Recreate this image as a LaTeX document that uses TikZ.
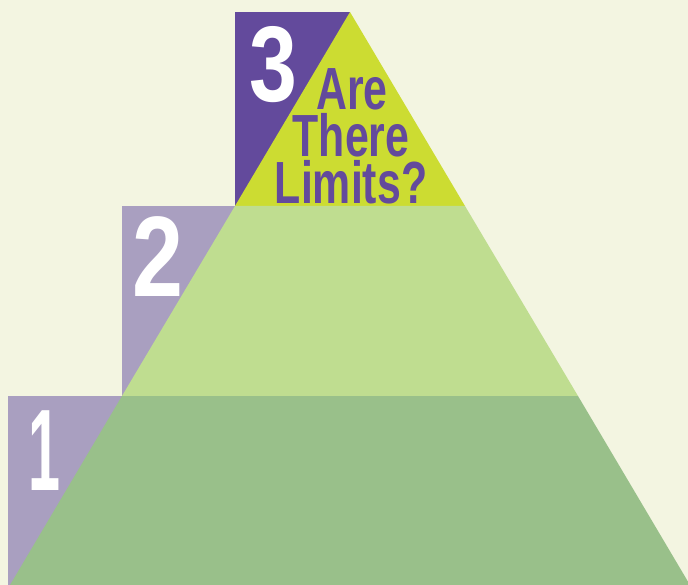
\documentclass[tikz,border=0pt]{standalone}
\usepackage{fontspec}
\setmainfont{Liberation Sans}
\definecolor{paper}{HTML}{F3F5E1}
\definecolor{topgreen}{HTML}{CCDC32}
\definecolor{midgreen}{HTML}{BFDD90}
\definecolor{lowgreen}{HTML}{99C08A}
\definecolor{darkpurple}{HTML}{634A9C}
\definecolor{lightpurple}{HTML}{A99FC0}
\begin{document}
\begin{tikzpicture}[x=1pt,y=-1pt,
  stepnum/.style={text=white,inner sep=0pt,anchor=base,xscale=0.8,
    font=\bfseries\fontsize{112}{112}\selectfont},
  title/.style={text=darkpurple,inner sep=0pt,anchor=base,xscale=0.72,
    text height=43pt,text depth=0pt,
    font=\bfseries\fontsize{59.5}{47}\selectfont}]
  \fill[paper] (0,0) rectangle (688,585);
  \useasboundingbox (0,0) rectangle (688,585);
  % Steps
  \fill[darkpurple] (235,12) rectangle (350,206);
  \fill[lightpurple] (122,206) rectangle (235,396);
  \fill[lightpurple] (8,396) rectangle (122,585);
  % Pyramid
  \fill[topgreen] (350,12) -- (235,206) -- (465,206) -- cycle;
  \fill[midgreen] (235,206) -- (465,206) -- (578,396) -- (122,396) -- cycle;
  \fill[lowgreen] (122,396) -- (578,396) -- (690,585) -- (10,585) -- cycle;
  % Numbers
  \node[stepnum,font=\bfseries\fontsize{107.5}{107.5}\selectfont] (three) at (273,102) {3};
  \node[stepnum,font=\bfseries\fontsize{114.5}{114.5}\selectfont] (two) at (158,297) {2};
  \node[stepnum,xscale=0.62,font=\bfseries\fontsize{116}{116}\selectfont] (one) at (44,490) {1};
  % Title
  \node[title] (are) at (352,110) {Are};
  \node[title] (there) at (351,157) {There};
  \node[title] (limits) at (351,204) {Limits?};
\end{tikzpicture}
\end{document}
